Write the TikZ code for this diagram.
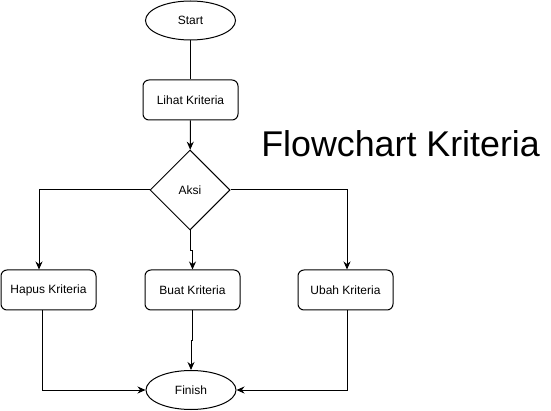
\documentclass[tikz,border=0pt]{standalone}
\usepackage{fontspec}
\setmainfont{Liberation Sans}
\usetikzlibrary{arrows.meta,shapes.geometric}
\definecolor{ink}{HTML}{000000}

\begin{document}
\begin{tikzpicture}[x=1pt,y=-1pt,>={Stealth[length=8pt,width=7pt]},line width=1pt,
  term/.style={draw=ink,ellipse,minimum width=90pt,minimum height=39pt,inner sep=0pt,font=\fontsize{12}{14}\selectfont},
  box/.style={draw=ink,rounded corners=6pt,minimum width=95pt,minimum height=40pt,inner sep=0pt,font=\fontsize{12}{14}\selectfont},
  decision/.style={draw=ink,diamond,aspect=1,minimum width=80pt,minimum height=80pt,inner sep=0pt,font=\fontsize{12}{14}\selectfont}]
\useasboundingbox (0,0) rectangle (551,411);
\node[term] (start) at (190.5,20.5) {Start};
\node[box] (lihat) at (190.5,100) {Lihat Kriteria};
\node[decision] (aksi) at (190,190) {Aksi};
\node[box] (hapus) at (48.5,290) {Hapus Kriteria};
\node[box] (buat) at (192.5,290) {Buat Kriteria};
\node[box] (ubah) at (345.5,290) {Ubah Kriteria};
\node[term] (finish) at (191,390) {Finish};
\node[anchor=base west,font=\fontsize{35.8}{40}\selectfont] (title) at (257.5,157) {Flowchart Kriteria};
\draw (start) -- (lihat);
\draw[->] (lihat) -- (aksi);
\draw[->] (aksi.west) -| ([xshift=-9.5pt]hapus.north);
\draw[->] (aksi.south) -- ++(0,20) -| (buat.north);
\draw[->] (aksi.east) -| ([xshift=1.5pt]ubah.north);
\draw[->] ([xshift=-6.5pt]hapus.south) |- (finish.west);
\draw[->] (buat.south) -- ++(0,30) -| (finish.north);
\draw[->] ([xshift=1.5pt]ubah.south) |- (finish.east);
\end{tikzpicture}
\end{document}
